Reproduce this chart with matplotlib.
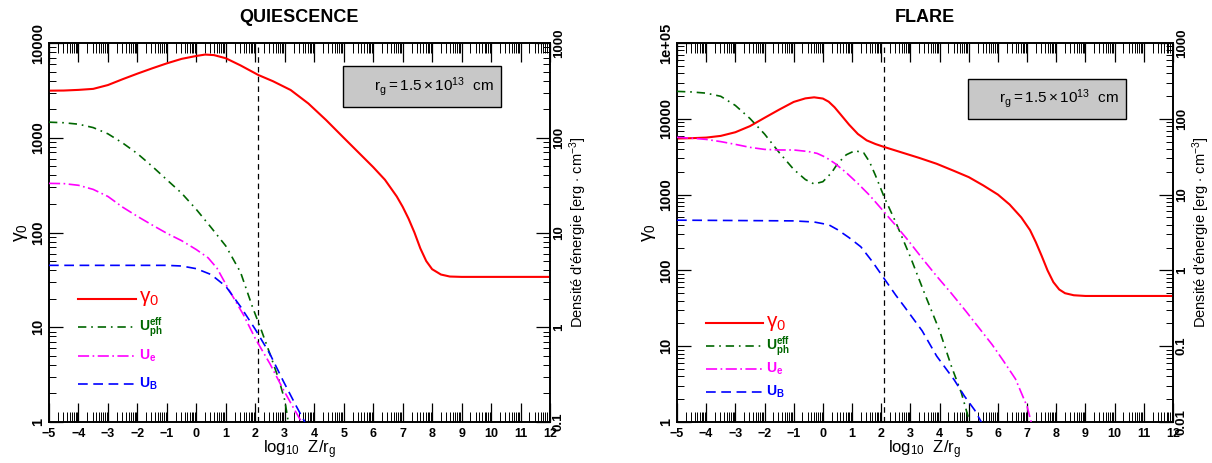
import numpy as np
import matplotlib
matplotlib.use("Agg")
import matplotlib.pyplot as plt
from matplotlib.ticker import FixedLocator, NullFormatter
from matplotlib.lines import Line2D
from matplotlib.patches import Rectangle

plt.rcParams['font.family'] = ['Liberation Sans', 'DejaVu Sans']
plt.rcParams['font.weight'] = 'normal'
plt.rcParams['mathtext.fontset'] = 'custom'
plt.rcParams['mathtext.rm'] = 'Liberation Sans:normal'
plt.rcParams['mathtext.it'] = 'Liberation Sans:italic'
plt.rcParams['mathtext.bf'] = 'Liberation Sans:bold'
plt.rcParams['lines.scale_dashes'] = False

# ---------------- data ----------------
z_break = 2.1

# QUIESCENCE
z_gamma_q = [-5, -4.5, -4, -3.5, -3, -2.5, -2, -1.5, -1, -0.5, 0, 0.3, 0.6, 1.0, 1.5, 2.1,
             2.6, 3.2, 3.8, 4.4, 5.0, 5.5, 6.0, 6.4, 6.8, 7.0, 7.2, 7.4, 7.6, 7.8, 8.0, 8.3,
             8.6, 9.0, 10, 11, 12]
gamma_q = [3140, 3150, 3200, 3280, 3600, 4150, 4750, 5400, 6100, 6800, 7300, 7550, 7450, 6900,
           5800, 4600, 3950, 3190, 2300, 1540, 1000, 700, 490, 360, 240, 187, 140, 100, 68, 50,
           41, 36, 34.3, 34, 34, 34, 34]

z_ph_q = [-5, -4.5, -4, -3.5, -3, -2.5, -2, -1.5, -1, -0.5, 0, 0.5, 1.0, 1.5, 1.9, 2.2, 2.5,
          2.8, 3.0, 3.12]
u_ph_q = [146, 144, 139, 128, 110, 88, 68, 50, 36, 26, 17.5, 11.3, 7.2, 3.8, 1.65, 0.94, 0.52,
          0.28, 0.17, 0.1]

z_e_q = [-5, -4.5, -4, -3.5, -3, -2.5, -2, -1.5, -1, -0.5, 0, 0.4, 0.7, 1.1, 1.6, 2.0, 2.5,
         2.95, 3.3, 3.57]
u_e_q = [33, 32.8, 31.5, 28.5, 24, 18.5, 14.8, 12, 9.8, 8.2, 6.6, 5.4, 4.2, 2.5, 1.35, 0.76,
         0.41, 0.22, 0.14, 0.1]

z_b_q = [-5, -4, -3, -2, -1, -0.5, 0, 0.5, 1.0, 1.5, 2.0, 2.5, 2.95, 3.4, 3.68]
u_b_q = [4.5, 4.5, 4.5, 4.5, 4.5, 4.43, 4.15, 3.6, 2.7, 1.65, 0.95, 0.52, 0.27, 0.145, 0.1]

# FLARE
z_gamma_f = [-5, -4.5, -4, -3.5, -3, -2.5, -2, -1.5, -1, -0.6, -0.3, 0, 0.2, 0.4, 0.6, 0.9, 1.2,
             1.5, 1.8, 2.1, 2.7, 3.3, 3.9, 4.5, 5.0, 5.5, 6.0, 6.4, 6.8, 7.1, 7.3, 7.5, 7.7,
             7.9, 8.1, 8.3, 8.6, 9.0, 10, 11, 12]
gamma_f = [5500, 5550, 5650, 5950, 6650, 8000, 10300, 13200, 16700, 18600, 19200, 18500, 16800,
           14200, 11500, 8350, 6300, 5200, 4650, 4250, 3600, 3050, 2550, 2050, 1700, 1320, 1000,
           740, 500, 340, 235, 155, 100, 70, 56, 50, 47, 46, 46, 46, 46]

z_ph_f = [-5, -4.5, -4, -3.5, -3, -2.5, -2, -1.5, -1, -0.6, -0.3, 0, 0.3, 0.5, 0.8, 1.1, 1.4,
          1.6, 1.8, 2.1, 2.5, 3.0, 3.5, 4.0, 4.4, 4.75, 5.03]
u_ph_f = [230, 226, 218, 198, 150, 101, 63, 36, 21.5, 15.8, 13.8, 14.8, 19.5, 25.5, 33.5, 38,
          35.5, 27, 18, 9.3, 4.3, 1.5, 0.48, 0.16, 0.055, 0.024, 0.01]

z_e_f = [-5, -4.5, -4, -3.5, -3, -2.5, -2, -1.5, -1, -0.5, -0.2, 0.1, 0.4, 0.8, 1.2, 1.6, 2.1,
         2.5, 2.9, 3.4, 3.9, 4.4, 4.9, 5.4, 5.8, 6.2, 6.6, 7.0, 7.14]
u_e_f = [57, 55.5, 53.5, 50, 46, 42, 39.5, 38.8, 38.8, 37, 35, 31, 26, 19.5, 14, 9.8, 5.9, 3.9,
         2.55, 1.45, 0.84, 0.5, 0.29, 0.165, 0.105, 0.063, 0.037, 0.016, 0.01]

z_b_f = [-5, -3, -1, -0.3, 0.2, 0.5, 0.9, 1.3, 1.7, 2.1, 2.5, 2.8, 3.4, 3.9, 4.5, 4.85, 5.2, 5.43]
u_b_f = [4.6, 4.55, 4.5, 4.35, 4.0, 3.45, 2.7, 2.05, 1.3, 0.78, 0.47, 0.33, 0.16, 0.074, 0.036,
         0.022, 0.0144, 0.01]

x_ticks = list(range(-5, 13))
x_tick_labels = [str(v).replace('-', '\u2212') for v in x_ticks]

yl_ticks_q = [1, 10, 100, 1000, 10000]
yl_labels_q = ['1', '10', '100', '1000', '10000']
yr_ticks_q = [0.1, 1, 10, 100, 1000]
yr_labels_q = ['0.1', '1', '10', '100', '1000']

yl_ticks_f = [1, 10, 100, 1000, 10000, 100000]
yl_labels_f = ['1', '10', '100', '1000', '10000', '1e+05']
yr_ticks_f = [0.01, 0.1, 1, 10, 100, 1000]
yr_labels_f = ['0.01', '0.1', '1', '10', '100', '1000']

titles = ['QUIESCENCE', 'FLARE']
legend_labels = [r'$\mathrm{\gamma_0}$', r'$\mathbf{U^{eff}_{ph}}$', r'$\mathbf{U_{e}}$',
                 r'$\mathbf{U_{B}}$']
box_text = r'$\mathrm{r_g = 1.5\times10^{13}}$  cm'
xlabel = r'$\mathrm{log_{10}\ \ Z/r_g}$'
ylabel_left = r'$\mathrm{\gamma_0}$'
ylabel_right = r"Densité d'énergie [erg $\cdot$ cm$^{-3}$]"

# ---------------- styles ----------------
C_RED = '#ff0000'
C_GREEN = '#006600'
C_MAG = '#ff00ff'
C_BLUE = '#0000ff'
LS_PH = (0, (6, 3.5, 1.2, 3.5))
LS_E = (0, (8, 2.5, 1.2, 2.5))
LS_B = (0, (7, 4))

W, H = 1212, 463
fig = plt.figure(figsize=(W / 100, H / 100), dpi=100)

minor_x = [n + np.log10(k) for n in range(-5, 12) for k in range(2, 10)]


def log_minor(lo, hi):
    out = []
    e = int(np.floor(np.log10(lo)))
    while 10 ** e < hi:
        for k in range(2, 10):
            v = k * 10.0 ** e
            if lo < v < hi:
                out.append(v)
        e += 1
    return out


def panel(px_left, px_right, title, zg, g, zph, uph, ze, ue, zb, ub,
          ylt, yll, yrt, yrl, box_rect):
    top, bot = 43, 422
    wpx = px_right - px_left
    ax = fig.add_axes([px_left / W, 1 - bot / H, wpx / W, (bot - top) / H])
    ax2 = ax.twinx()
    ax.set_yscale('log')
    ax2.set_yscale('log')
    ax.set_xlim(-5, 12)
    ax.set_ylim(ylt[0], ylt[-1])
    ax2.set_ylim(yrt[0], yrt[-1])

    ax.plot(zg, g, color=C_RED, lw=1.5, zorder=3)
    ax2.plot(zph, uph, color=C_GREEN, lw=1.2, linestyle=LS_PH, zorder=3)
    ax2.plot(ze, ue, color=C_MAG, lw=1.2, linestyle=LS_E, zorder=3)
    ax2.plot(zb, ub, color=C_BLUE, lw=1.2, linestyle=LS_B, zorder=3)
    ax.axvline(z_break, color='k', lw=0.9, linestyle=(0, (4, 3)), zorder=2)

    # x ticks
    ax.set_xticks(x_ticks)
    ax.set_xticklabels(x_tick_labels, fontsize=9, fontweight='bold')
    ax.xaxis.set_minor_locator(FixedLocator(minor_x))
    ax.tick_params(axis='x', which='both', direction='in', top=True, bottom=True, pad=4)
    ax.tick_params(axis='x', which='major', length=14, width=0.9)
    ax.tick_params(axis='x', which='minor', length=7, width=0.7)

    # left y
    ax.set_yticks(ylt)
    ax.set_yticklabels(yll, rotation=90, va='center', fontsize=10.5, fontweight='bold')
    ax.yaxis.set_minor_locator(FixedLocator(log_minor(ylt[0], ylt[-1])))
    ax.yaxis.set_minor_formatter(NullFormatter())
    ax.tick_params(axis='y', which='both', direction='in', left=True, right=False, pad=3)
    ax.tick_params(axis='y', which='major', length=10, width=0.9)
    ax.tick_params(axis='y', which='minor', length=5, width=0.7)

    # right y
    ax2.set_yticks(yrt)
    ax2.set_yticklabels(yrl, rotation=90, va='center', fontsize=9.5, fontweight='bold')
    ax2.yaxis.set_minor_locator(FixedLocator(log_minor(yrt[0], yrt[-1])))
    ax2.yaxis.set_minor_formatter(NullFormatter())
    ax2.tick_params(axis='y', which='both', direction='in', left=False, right=True, pad=2)
    ax2.tick_params(axis='y', which='major', length=10, width=0.9)
    ax2.tick_params(axis='y', which='minor', length=5, width=0.7)

    for a in (ax, ax2):
        for s in a.spines.values():
            s.set_linewidth(1.2)

    ax.set_xlabel(xlabel, fontsize=12)
    ax.xaxis.set_label_coords(0.5, -0.042)
    ax.set_ylabel(ylabel_left, fontsize=14)
    ax.yaxis.label.set_va('center')
    ax.yaxis.set_label_coords(-28 / wpx, 0.5)
    ax2.set_ylabel(ylabel_right, fontsize=10.5)
    ax2.yaxis.label.set_va('center')
    ax2.yaxis.set_label_coords(1 + 28 / wpx, 0.5)

    ax.text(0.5, 1 + 25 / (bot - top), title, transform=ax.transAxes, ha='center',
            va='center', fontsize=13, fontweight='bold')

    # text box
    x0, x1, y0, y1 = box_rect
    ax2.add_patch(Rectangle((x0, y0), x1 - x0, y1 - y0, transform=ax2.transAxes,
                            facecolor='#c8c8c8', edgecolor='k', lw=1.0, zorder=5))
    ax2.text(x1 - 0.016, (y0 + y1) / 2, box_text, transform=ax2.transAxes, ha='right',
             va='center', fontsize=11, zorder=6)

    # legend (drawn in left-axis data coordinates)
    rows = [20, 10, 5, 2.5]
    styles = [dict(color=C_RED, lw=1.5, linestyle='-'),
              dict(color=C_GREEN, lw=1.2, linestyle=LS_PH),
              dict(color=C_MAG, lw=1.2, linestyle=LS_E),
              dict(color=C_BLUE, lw=1.2, linestyle=LS_B)]
    colors = [C_RED, C_GREEN, C_MAG, C_BLUE]
    sizes = [15, 10, 10, 10]
    for yv, st, lab, c, fs in zip(rows, styles, legend_labels, colors, sizes):
        ax.add_line(Line2D([-4, -2.05], [yv, yv], **st))
        ax.text(-1.95, yv, lab, color=c, fontsize=fs, ha='left', va='center')
    return ax, ax2


panel(49, 550, titles[0], z_gamma_q, gamma_q, z_ph_q, u_ph_q, z_e_q, u_e_q, z_b_q, u_b_q,
      yl_ticks_q, yl_labels_q, yr_ticks_q, yr_labels_q, (0.586, 0.903, 0.831, 0.939))
panel(677, 1173, titles[1], z_gamma_f, gamma_f, z_ph_f, u_ph_f, z_e_f, u_e_f, z_b_f, u_b_f,
      yl_ticks_f, yl_labels_f, yr_ticks_f, yr_labels_f, (0.586, 0.906, 0.80, 0.905))

fig.savefig('out.png', dpi=100)
